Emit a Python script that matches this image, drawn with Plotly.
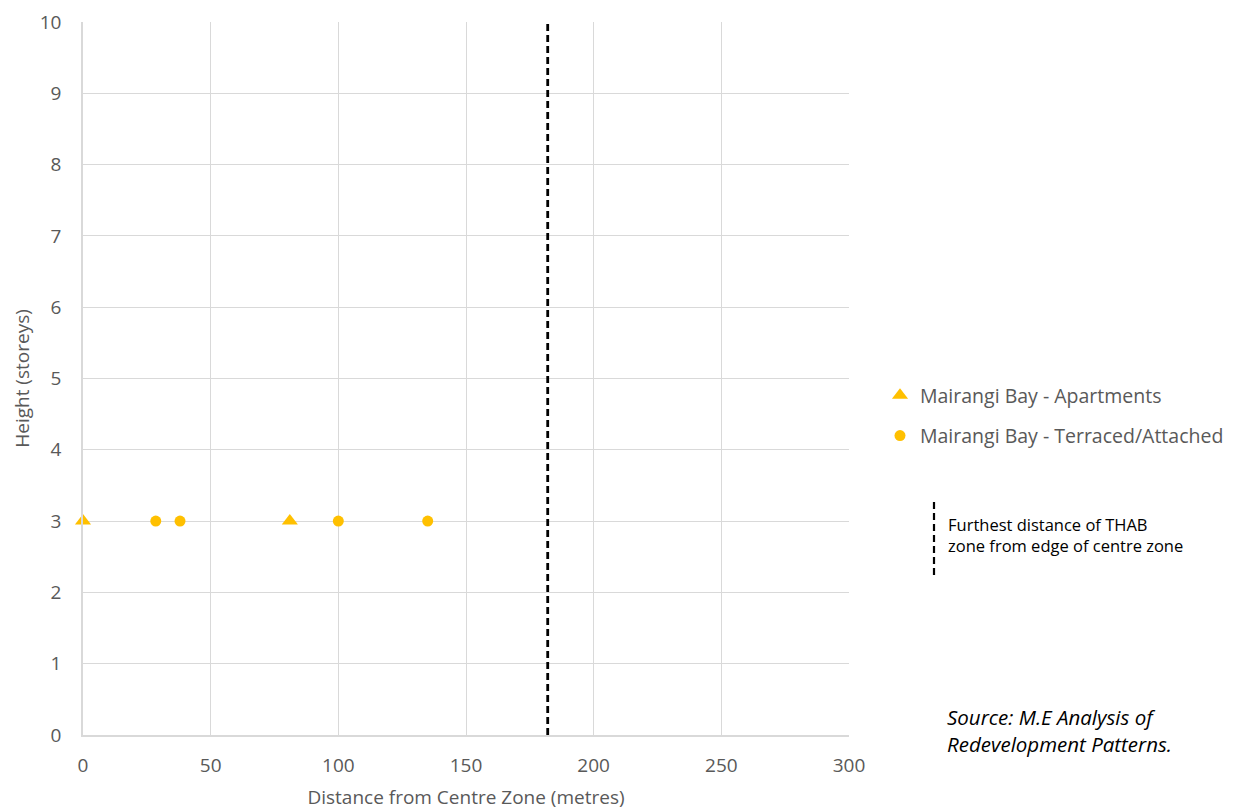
import plotly.graph_objects as go

# Mairangi Bay redevelopment sites: distance from centre zone vs height
apt_distance = [0, 81]
apt_height = [3, 3]
terr_distance = [28.5, 38, 100, 135]
terr_height = [3, 3, 3, 3]

thab_limit = 182  # furthest distance of THAB zone from centre zone edge (m)

x_ticks = [0, 50, 100, 150, 200, 250, 300]
y_ticks = list(range(0, 11))

FONT = "'Open Sans', sans-serif"
GOLD = "#FFC000"
GREY_TXT = "#595959"
GRID = "#d9d9d9"

fig = go.Figure()

fig.add_trace(go.Scatter(
    x=apt_distance, y=apt_height, mode="markers",
    name="Mairangi Bay - Apartments",
    legendgroup="a", cliponaxis=False,
    marker=dict(symbol="triangle-up", size=14, color=GOLD),
))
fig.add_trace(go.Scatter(
    x=terr_distance, y=terr_height, mode="markers",
    name="Mairangi Bay - Terraced/Attached",
    legendgroup="b", cliponaxis=False,
    marker=dict(symbol="circle", size=11, color=GOLD),
))

# THAB boundary line
fig.add_shape(type="line", xref="x", yref="y",
              x0=thab_limit, x1=thab_limit, y0=0, y1=10,
              line=dict(color="black", width=2.8, dash="7px,4px"))

# key for the boundary line
fig.add_shape(type="line", xref="paper", yref="paper",
              x0=(934 - 83) / 766, x1=(934 - 83) / 766,
              y0=(735 - 575) / 713, y1=(735 - 500) / 713,
              line=dict(color="black", width=2.2, dash="7px,4px"))
fig.add_annotation(xref="paper", yref="paper",
                   x=(946 - 83) / 766, y=(735 - 535) / 713,
                   xanchor="left", yanchor="middle", align="left", showarrow=False,
                   text="Furthest distance of THAB<br>zone from edge of centre zone",
                   font=dict(family=FONT, size=16.5, color="black"))

fig.add_annotation(xref="paper", yref="paper",
                   x=(945 - 83) / 766, y=(735 - 730) / 713,
                   xanchor="left", yanchor="middle", align="left", showarrow=False,
                   text="<i>Source: M.E Analysis of<br>Redevelopment Patterns.</i>",
                   font=dict(family=FONT, size=20.5, color="black"))

fig.update_layout(
    width=1239, height=810,
    margin=dict(l=83, r=390, t=22, b=75, autoexpand=False),
    paper_bgcolor="white", plot_bgcolor="white",
    font=dict(family=FONT, color=GREY_TXT),
    legend=dict(
        x=(880 - 83) / 766, y=(735 - 376) / 713,
        xanchor="left", yanchor="top",
        font=dict(family=FONT, size=19.5, color=GREY_TXT),
        tracegroupgap=12, itemwidth=30,
        bgcolor="rgba(0,0,0,0)",
    ),
    xaxis=dict(
        range=[0, 300], tickvals=x_ticks, ticktext=[str(v) for v in x_ticks],
        showgrid=True, gridcolor=GRID, gridwidth=1,
        showline=True, linecolor=GRID, linewidth=1.5, mirror=False,
        zeroline=False, ticks="", ticklabelstandoff=12,
        tickfont=dict(size=19, color=GREY_TXT),
        automargin=False,
        title=dict(text="Distance from Centre Zone (metres)", standoff=16,
                   font=dict(size=19, color=GREY_TXT)),
    ),
    yaxis=dict(
        range=[0, 10], tickvals=y_ticks, ticktext=[str(v) for v in y_ticks],
        showgrid=True, gridcolor=GRID, gridwidth=1,
        showline=True, linecolor=GRID, linewidth=1.5,
        zeroline=False, ticks="", ticklabelstandoff=16,
        tickfont=dict(size=19, color=GREY_TXT),
        automargin=False,
        title=dict(text="Height (storeys)", standoff=5,
                   font=dict(size=19, color=GREY_TXT)),
    ),
)

fig.write_html("out.html")
